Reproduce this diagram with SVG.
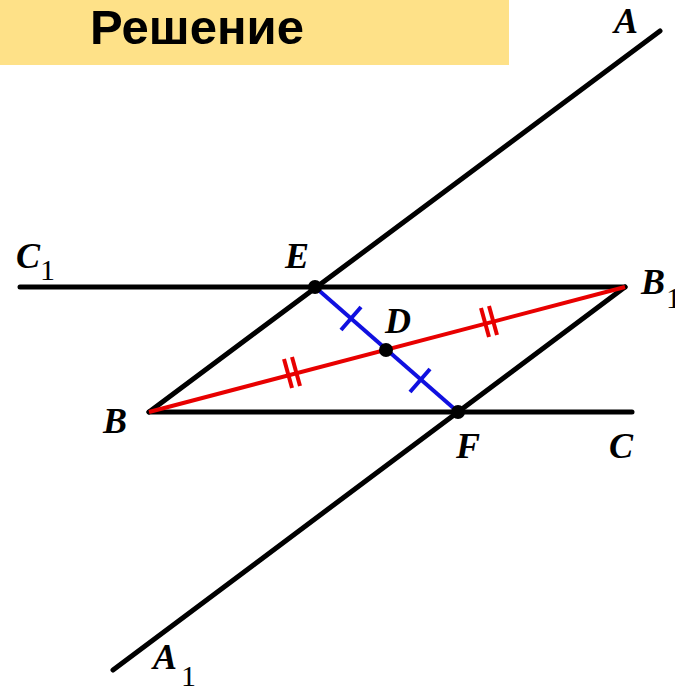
<svg xmlns="http://www.w3.org/2000/svg" width="675" height="689" viewBox="0 0 675 689">
<style>
.ln{stroke:#000;stroke-width:5;stroke-linecap:round;fill:none}
.red{stroke:#e80000;stroke-width:4;fill:none}
.blue{stroke:#1010e0;stroke-width:4;fill:none}
.lbl{font-family:"Liberation Serif",serif;font-style:italic;font-weight:bold;font-size:36px;fill:#000}
.sub{font-family:"Liberation Serif",serif;font-size:30px;fill:#000}
.dot{fill:#000}
</style>
<rect x="0" y="0" width="509" height="65" fill="#fee188"/>
<text x="197" y="44" text-anchor="middle" font-family="Liberation Sans, Arial, sans-serif" font-weight="bold" font-size="49">Решение</text>
<g id="connectors">
<line class="ln" x1="660" y1="31" x2="149" y2="412"/>
<line class="ln" x1="625" y1="287" x2="113" y2="670"/>
<line class="ln" x1="20" y1="287" x2="625" y2="287"/>
<line class="ln" x1="149" y1="412" x2="632" y2="412"/>
<line class="red" x1="149" y1="412" x2="625" y2="287"/>
<line class="blue" x1="315" y1="287" x2="458" y2="412"/>
<g class="blue">
<line x1="341" y1="330" x2="361" y2="307"/>
<line x1="410" y1="392" x2="430" y2="369"/>
</g>
<g class="red">
<line x1="284" y1="359" x2="292" y2="388"/>
<line x1="292" y1="357" x2="300" y2="386"/>
<line x1="481" y1="308" x2="489" y2="337"/>
<line x1="489" y1="306" x2="497" y2="335"/>
</g>
</g>
<g id="A"><text class="lbl" x="614" y="33">A</text></g>
<g id="A1"><text class="lbl" x="153" y="669">A</text><text class="sub" x="181" y="686">1</text></g>
<g id="C1"><text class="lbl" x="16" y="268">C</text><text class="sub" x="40" y="280">1</text></g>
<g id="B1"><text class="lbl" x="641" y="294">B</text><text class="sub" x="666" y="308">1</text></g>
<g id="E"><circle class="dot" cx="315" cy="287" r="7"/><text class="lbl" x="285" y="268">E</text></g>
<g id="D"><circle class="dot" cx="386" cy="350" r="7"/><text class="lbl" x="385" y="333">D</text></g>
<g id="F"><circle class="dot" cx="458" cy="412" r="7"/><text class="lbl" x="456" y="458">F</text></g>
<g id="B"><text class="lbl" x="103" y="433">B</text></g>
<g id="C"><text class="lbl" x="609" y="458">C</text></g>
</svg>
